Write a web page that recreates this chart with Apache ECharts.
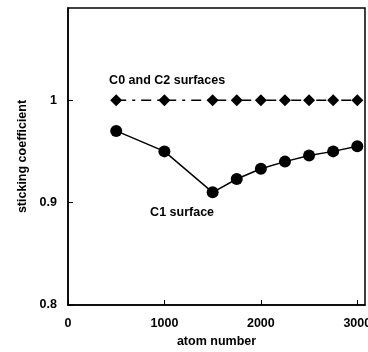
<!DOCTYPE html>
<html><head><meta charset="utf-8">
<script src="https://cdn.jsdelivr.net/npm/echarts@6/dist/echarts.min.js"></script>
<style>html,body{margin:0;padding:0;background:#fff}#c{width:368px;height:352px}</style>
</head><body><div id="c"></div>
<script>
const atomNumbers = [500, 1000, 1500, 1750, 2000, 2250, 2500, 2750, 3000];
const c0c2Values = [1, 1, 1, 1, 1, 1, 1, 1, 1];
const c1Values = [0.970, 0.950, 0.910, 0.923, 0.933, 0.940, 0.946, 0.950, 0.955];
const yTickLabels = {"0.8": "0.8", "0.9": "0.9", "1": "1"};
const xTickLabels = {"0": "0", "1000": "1000", "2000": "2000", "3000": "3000"};
const annotC0C2 = {text: "C0 and C2 surfaces", x: 1028, y: 1.0195};
const annotC1 = {text: "C1 surface", x: 1183, y: 0.890};

const font = "Liberation Sans, Arial, Helvetica, sans-serif";
const fs = 12.5;
const chart = echarts.init(document.getElementById('c'), null, {renderer: 'canvas'});
function annot(a) {
  return {
    symbol: 'circle', symbolSize: 0,
    data: [{coord: [a.x, a.y], value: a.text}],
    label: {show: true, position: 'inside', formatter: a.text, color: '#000',
      fontFamily: font, fontWeight: 'bold', fontSize: fs}
  };
}
chart.setOption({
  animation: false,
  backgroundColor: '#fff',
  grid: {left: 68, right: 3, top: 8, bottom: 47, show: true, borderColor: '#000', borderWidth: 1.5,
    containLabel: false, outerBoundsMode: 'none'},
  xAxis: {
    type: 'value', min: 0, max: 3080, interval: 1000,
    name: 'atom number', nameLocation: 'middle', nameGap: 30,
    nameTextStyle: {fontFamily: font, fontWeight: 'bold', fontSize: fs, color: '#000'},
    axisLine: {lineStyle: {color: '#000', width: 1.5}},
    axisTick: {inside: true, length: 5, lineStyle: {color: '#000', width: 1}},
    axisLabel: {fontFamily: font, fontWeight: 'bold', fontSize: fs, color: '#000', margin: 12, showMaxLabel: false,
      formatter: v => { const k = String(Math.round(v)); return xTickLabels[k] !== undefined ? xTickLabels[k] : ''; }},
    splitLine: {show: false}
  },
  yAxis: {
    type: 'value', min: 0.8, max: 1.09, interval: 0.1,
    name: 'sticking coefficient', nameLocation: 'middle', nameGap: 38,
    nameTextStyle: {fontFamily: font, fontWeight: 'bold', fontSize: fs, color: '#000'},
    axisLine: {lineStyle: {color: '#000', width: 1.5}},
    axisTick: {inside: true, length: 5, lineStyle: {color: '#000', width: 1}},
    axisLabel: {fontFamily: font, fontWeight: 'bold', fontSize: fs, color: '#000', margin: 11,
      showMaxLabel: false,
      formatter: v => { const k = String(Math.round(v * 10) / 10); return yTickLabels[k] !== undefined ? yTickLabels[k] : ''; }},
    splitLine: {show: false}
  },
  series: [
    {
      type: 'line', data: atomNumbers.map((x, i) => [x, c0c2Values[i]]),
      symbol: 'diamond', symbolSize: 12, z: 3,
      itemStyle: {color: '#000'},
      lineStyle: {color: '#000', width: 1.5, type: [10, 6, 3, 6]},
      markPoint: annot(annotC0C2)
    },
    {
      type: 'line', data: atomNumbers.map((x, i) => [x, c1Values[i]]),
      symbol: 'circle', symbolSize: 12, z: 3,
      itemStyle: {color: '#000'},
      lineStyle: {color: '#000', width: 1.5},
      markPoint: annot(annotC1)
    }
  ]
});
</script></body></html>
